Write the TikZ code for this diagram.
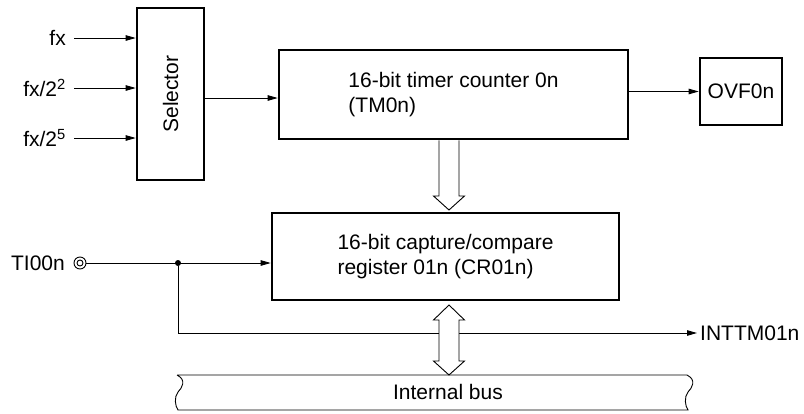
\documentclass[tikz,border=0pt]{standalone}
\usepackage{fontspec}
\setmainfont{Liberation Sans}
\usetikzlibrary{arrows.meta}

\begin{document}
\begin{tikzpicture}[x=1pt,y=-1pt,font=\fontsize{21}{25}\selectfont,
  blk/.style={draw,line width=2.6pt,inner sep=0pt},
  lbl/.style={inner sep=3pt},
  sig/.style={line width=0.9pt,-{Triangle[length=10pt,width=5.5pt]}},
  hollow/.style={line width=0.9pt,fill=white,line join=miter}]
\useasboundingbox (0,0) rectangle (804,413);

\node[blk,minimum width=67pt,minimum height=172pt] (sel) at (170.5,94) {};
\node[rotate=90] (selt) at (sel.center) {Selector};
\node[blk,minimum width=349pt,minimum height=89pt,align=left] (tmr) at (453.5,94.5) {16-bit timer counter 0n\\(TM0n)};
\node[blk,minimum width=82pt,minimum height=67pt] (ovf) at (741,91.5) {OVF0n};
\node[blk,minimum width=347pt,minimum height=87pt,align=left] (cap) at (445.5,256.5) {16-bit capture/compare\\register 01n (CR01n)};

\node[lbl,anchor=east] (f0) at (69,38) {fx};
\node[lbl,anchor=east] (f2) at (69,88) {fx/2\textsuperscript{2}};
\node[lbl,anchor=east] (f5) at (69,138) {fx/2\textsuperscript{5}};
\foreach \n in {f0,f2,f5}
  \draw[sig] ([xshift=5pt]\n.east) -- (\n.east -| sel.west);

\coordinate (selo) at ([yshift=-4pt]sel.east);
\draw[sig] (selo) -- (selo -| tmr.west);
\draw[sig] (ovf.west -| tmr.east) -- (ovf.west);

\node[lbl,anchor=east] (ti) at (68,263) {TI00n};
\node[circle,draw,line width=0.9pt,minimum size=12pt,inner sep=0pt] (pin) at (80,263) {};
\draw[line width=0.9pt] (pin.center) circle (3pt);
\node[circle,fill,inner sep=0pt,minimum size=6pt] (br) at (178,263) {};
\draw[sig] (pin.east) -- (pin.east -| cap.west);
\node[lbl,anchor=west] (int) at (697,333) {INTTM01n};
\draw[sig] (br) |- (int.west);

\draw[hollow] (439,140.4) -- (439,196) -- (433.5,196) -- (449,210) -- (464.5,196) -- (459,196) -- (459,140.4);

\node (bus) at (448,392) {Internal bus};
\draw[line width=0.9pt] (177,375) -- (687,375) .. controls (697,380) and (692,388) .. (688,392)
  .. controls (684,397) and (685,406) .. (688,410) -- (178,410)
  .. controls (175,406) and (174,397) .. (178,392) .. controls (182,388) and (187,380) .. (177,375);
\draw[hollow] (449,305) -- (464.5,320) -- (459,320) -- (459,361) -- (464.5,361) -- (449,375) -- (433.5,361) -- (439,361) -- (439,320) -- (433.5,320) -- cycle;
\end{tikzpicture}
\end{document}
